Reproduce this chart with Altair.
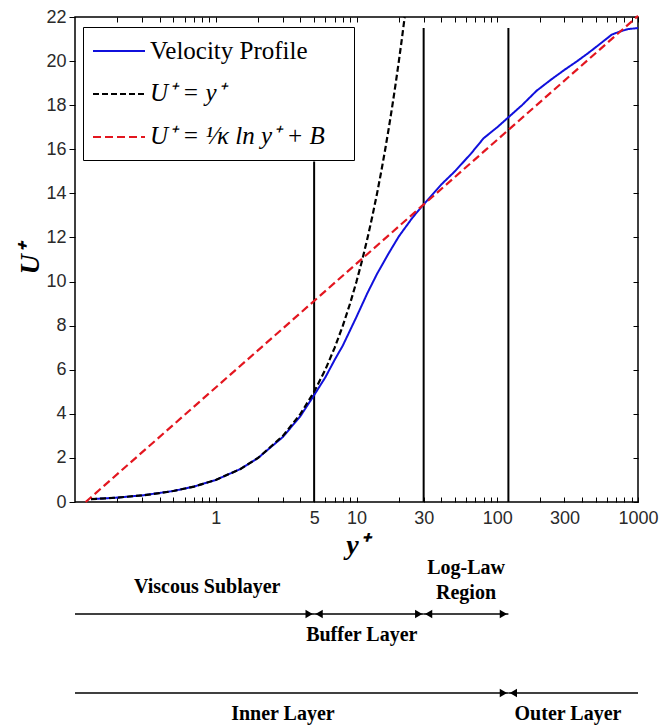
import altair as alt
import pandas as pd

# Mean velocity profile in wall units (y+, U+)
profile_yplus = [0.13, 0.2, 0.3, 0.5, 0.7, 1, 1.5, 2, 3, 4, 5, 6, 7, 8, 10, 12, 14, 17,
                 20, 25, 30, 40, 50, 65, 80, 100, 120, 150, 190, 240, 300, 370, 440,
                 530, 650, 750, 850, 1000]
profile_uplus = [0.13, 0.2, 0.3, 0.5, 0.7, 1.0, 1.5, 2.0, 2.95, 3.9, 4.85, 5.65, 6.45,
                 7.1, 8.4, 9.5, 10.35, 11.3, 12.05, 12.9, 13.5, 14.4, 15.0, 15.8, 16.5,
                 17.0, 17.45, 18.0, 18.65, 19.15, 19.6, 20.0, 20.35, 20.75, 21.2, 21.35,
                 21.45, 21.5]

# Viscous sublayer law U+ = y+
sublayer_yplus = [0.13, 0.15, 0.2, 0.3, 0.4, 0.5, 0.7, 1, 1.5, 2, 3, 4, 5, 6, 7, 8, 9,
                  10, 11, 12, 13, 14, 15, 16, 17, 18, 19, 20, 21, 22]
sublayer_uplus = [0.13, 0.15, 0.2, 0.3, 0.4, 0.5, 0.7, 1, 1.5, 2, 3, 4, 5, 6, 7, 8, 9,
                  10, 11, 12, 13, 14, 15, 16, 17, 18, 19, 20, 21, 22]

# Log law: a straight line on the log axis, given by its two end points
loglaw_yplus = [0.119, 1000]
loglaw_uplus = [0.0, 22.05]

# Region boundaries in y+ (the first one stops under the legend box)
region_bounds = [5, 30, 120]
bound_low = [0, 0, 0]
bound_top = [15.45, 21.5, 21.5]

series_names = ["Velocity Profile", "U⁺ = y⁺", "U⁺ = ¹⁄κ ln y⁺ + B"]
series_colors = ["#1010dc", "#000000", "#e3161f"]
series_dashes = [[1, 0], [6, 3], [8, 4]]

x_label_values = [1, 5, 10, 30, 100, 300, 1000]
x_tick_values = [0.2, 0.3, 0.4, 0.5, 0.6, 0.7, 0.8, 0.9,
                 1, 2, 3, 4, 5, 6, 7, 8, 9,
                 10, 20, 30, 40, 50, 60, 70, 80, 90,
                 100, 200, 300, 400, 500, 600, 700, 800, 900, 1000]
y_tick_values = [0, 2, 4, 6, 8, 10, 12, 14, 16, 18, 20, 22]

# Layer spans drawn as arrows beneath the axis
row1_start = [0.1, 5, 30]
row1_end = [5, 30, 120]
row1_right_heads = [5, 30, 120]
row1_left_heads = [5, 30]
row2_start = [0.1, 120]
row2_end = [120, 1000]
row2_right_heads = [120]
row2_left_heads = [120]

label_texts = ["Viscous Sublayer", "Log-Law", "Region", "Buffer Layer", "Inner Layer", "Outer Layer"]
label_x = [0.87, 60, 60, 10.9, 3.0, 318]

# ---- layout (pixels) ----
W, H = 563, 485
ROW1_Y, ROW2_Y = 597, 676
label_y = [570, 551, 576, 618, 697, 697]
LEGEND_TEXT_X = 75
legend_text_y = [34, 76, 119]

xscale = alt.Scale(type="log", domain=[0.1, 1000])
yscale = alt.Scale(domain=[0, 22])

profile_df = pd.DataFrame({"yplus": profile_yplus, "uplus": profile_uplus, "series": series_names[0]})
sublayer_df = pd.DataFrame({"yplus": sublayer_yplus, "uplus": sublayer_uplus, "series": series_names[1]})
loglaw_df = pd.DataFrame({"yplus": loglaw_yplus, "uplus": loglaw_uplus, "series": series_names[2]})
bounds_df = pd.DataFrame({"yplus": region_bounds, "lo": bound_low, "hi": bound_top})

# Legend: box and line samples; the entry texts are set in serif type by a text layer
legend = alt.Legend(
    title=None, orient="none", legendX=8, legendY=10, strokeColor="black",
    padding=10, symbolType="M-2,0H2", symbolSize=676, symbolStrokeWidth=2,
    symbolOffset=12, labelFontSize=27, labelOpacity=0, labelOffset=17,
    rowPadding=16, labelLimit=400,
)
color_enc = alt.Color("series:N", legend=legend,
                      scale=alt.Scale(domain=series_names, range=series_colors))
dash_enc = alt.StrokeDash("series:N", legend=legend,
                          scale=alt.Scale(domain=series_names, range=series_dashes))

label_list = ",".join(str(v) for v in x_label_values)
bottom_axis = alt.Axis(
    orient="bottom", values=x_tick_values, offset=-5, tickSize=5, tickWidth=1,
    tickColor="black", domain=False, grid=False, format="d",
    labelExpr=f"indexof([{label_list}], datum.value) >= 0 ? datum.label : ''",
    labelFlush=False, labelOverlap=False, labelBound=False, labelPadding=7,
    labelFont="Liberation Sans", labelFontSize=18, labelColor="#2a2a2a",
    title="y⁺", titleFont="Liberation Serif", titleFontSize=28, titleFontStyle="italic",
    titleFontWeight="bold", titleY=48, titleBaseline="middle", titleColor="black",
)
left_axis = alt.Axis(
    orient="left", values=y_tick_values, tickSize=6, tickWidth=1, tickColor="black",
    domain=False, grid=False, labelPadding=3,
    labelFont="Liberation Sans", labelFontSize=18, labelColor="#2a2a2a",
    title="U⁺", titleFont="Liberation Serif", titleFontSize=28, titleFontStyle="italic",
    titleFontWeight="bold", titleX=-45, titleY=H / 2, titleBaseline="middle",
    titleAngle=270, titleColor="black",
)
top_axis = alt.Axis(orient="top", values=x_tick_values, offset=-5, tickSize=5,
                    tickColor="black", domain=False, grid=False, labels=False, title=None)
right_axis = alt.Axis(orient="right", values=y_tick_values, offset=-5, tickSize=5,
                      tickColor="black", domain=False, grid=False, labels=False, title=None)

bounds = alt.Chart(bounds_df).mark_rule(color="black", strokeWidth=2).encode(
    x=alt.X("yplus:Q", scale=xscale, axis=bottom_axis),
    y=alt.Y("lo:Q", scale=yscale, axis=left_axis),
    y2="hi:Q",
)

profile = alt.Chart(profile_df).mark_line(strokeWidth=2).encode(
    x=alt.X("yplus:Q", scale=xscale, axis=top_axis),
    y=alt.Y("uplus:Q", scale=yscale, axis=right_axis),
    color=color_enc, strokeDash=dash_enc,
)
sublayer = alt.Chart(sublayer_df).mark_line(strokeWidth=2.2).encode(
    x=alt.X("yplus:Q", scale=xscale, axis=None),
    y=alt.Y("uplus:Q", scale=yscale, axis=None),
    color=color_enc, strokeDash=dash_enc,
)
loglaw = alt.Chart(loglaw_df).mark_line(strokeWidth=2.2).encode(
    x=alt.X("yplus:Q", scale=xscale, axis=None),
    y=alt.Y("uplus:Q", scale=yscale, axis=None),
    color=color_enc, strokeDash=dash_enc,
)

# Legend entry texts: the first upright, the two laws in italic
legend_texts = []
for i, (name, yp) in enumerate(zip(series_names, legend_text_y)):
    tdf = pd.DataFrame({"label": [name]})
    legend_texts.append(
        alt.Chart(tdf).mark_text(font="Liberation Serif", fontSize=25, color="black",
                                 fontStyle="normal" if i == 0 else "italic",
                                 align="left", baseline="middle").encode(
            x=alt.value(LEGEND_TEXT_X), y=alt.value(yp), text="label:N"))


def span_rules(starts, ends, ypix):
    df = pd.DataFrame({"start": starts, "end": ends})
    return alt.Chart(df).mark_rule(color="black", strokeWidth=1.3).encode(
        x=alt.X("start:Q", scale=xscale, axis=None), x2="end:Q", y=alt.value(ypix))


def heads(values, shape, shift, ypix):
    df = pd.DataFrame({"at": values})
    return alt.Chart(df).mark_point(shape=shape, filled=True, size=70, color="black",
                                    opacity=1, xOffset=shift).encode(
        x=alt.X("at:Q", scale=xscale, axis=None), y=alt.value(ypix))


annotations = [
    span_rules(row1_start, row1_end, ROW1_Y),
    heads(row1_right_heads, "triangle-right", -5, ROW1_Y),
    heads(row1_left_heads, "triangle-left", 5, ROW1_Y),
    span_rules(row2_start, row2_end, ROW2_Y),
    heads(row2_right_heads, "triangle-right", -5, ROW2_Y),
    heads(row2_left_heads, "triangle-left", 5, ROW2_Y),
]
for txt, xv, yp in zip(label_texts, label_x, label_y):
    tdf = pd.DataFrame({"at": [xv], "label": [txt]})
    annotations.append(
        alt.Chart(tdf).mark_text(font="Liberation Serif", fontWeight="bold", fontSize=20,
                                 color="black", baseline="middle", align="center").encode(
            x=alt.X("at:Q", scale=xscale, axis=None), y=alt.value(yp), text="label:N"))

chart = alt.layer(bounds, profile, sublayer, loglaw, *legend_texts, *annotations).resolve_axis(
    x="independent", y="independent"
).properties(
    width=W, height=H,
    autosize=alt.AutoSizeParams(type="none"),
    padding={"left": 75, "top": 17, "right": 24, "bottom": 224},
    background="white",
).configure_view(
    stroke="black", strokeWidth=1.5
)

chart.save("out.html", embed_options={"renderer": "svg", "actions": False})
